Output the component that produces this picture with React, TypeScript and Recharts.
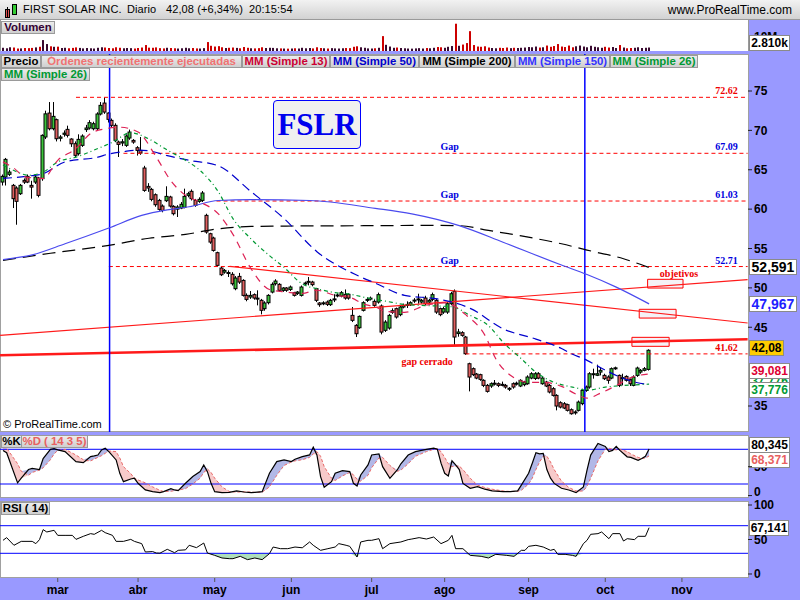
import React from 'react';
import { ComposedChart, Bar, Line, Area, XAxis, YAxis, ReferenceLine, ReferenceArea, ReferenceDot } from 'recharts';

// ---------- DATA (daily, index 0 = first session shown) ----------
const opens = [63.44,64.08,64.42,63.02,62.68,61.96,63.65,64.16,63.02,63.44,63.95,63.87,69.16,72.2,70.21,71.36,69.0,69.5,70.13,68.9,68.31,67.04,68.10,70.1,70.30,70.21,70.21,72.08,73.47,72.2,71.27,70.64,68.52,68.4,68.10,69.03,68.73,67.8,67.46,65.22,62.89,62.51,61.83,61.11,60.39,61.07,61.54,60.35,60.0,60.14,60.23,61.75,62.26,61.11,60.99,61.11,59.21,56.88,56.33,54.47,52.52,52.01,51.95,51.72,49.9,51.46,50.95,49.05,48.84,49.14,48.7,48.42,47.36,48.12,49.47,50.53,50.45,49.69,49.98,49.8,49.39,49.3,49.05,50.49,50.74,50.74,49.9,48.08,48.0,48.2,47.87,48.5,49.0,48.97,49.18,49.18,46.51,45.24,44.94,47.15,48.42,48.6,48.29,48.20,47.70,44.61,44.90,46.9,47.36,46.60,47.57,47.8,47.87,48.35,48.5,48.2,48.71,48.2,48.54,48.42,47.36,46.93,46.93,47.99,49.56,44.2,44.31,43.76,40.37,39.74,39.06,38.98,38.26,37.62,37.54,37.8,37.83,37.75,37.62,37.2,37.83,37.8,37.54,37.71,37.83,38.55,38.5,39.10,37.83,38.04,37.62,37.20,36.35,35.42,35.29,35.17,34.53,34.15,34.45,35.3,36.98,37.41,39.0,38.9,39.31,38.89,38.68,38.55,39.75,38.89,38.5,38.76,38.34,37.62,38.89,39.31,39.53,39.65];
const highs = [64.4,66.5,65.0,63.2,62.9,63.2,63.9,64.4,63.6,64.4,64.1,69.5,72.5,73.6,73.6,71.5,69.4,70.0,70.6,69.0,68.6,69.5,69.5,70.7,71.3,71.1,72.3,73.6,74.2,72.3,71.5,70.9,68.7,68.9,69.5,70.1,68.9,68.0,69.16,65.5,63.3,62.7,62.0,61.3,60.6,62.9,61.7,60.5,60.5,60.9,62.6,62.2,62.5,61.3,61.5,62.3,59.42,57.0,56.5,54.6,52.7,52.4,52.22,52.0,51.5,51.9,51.1,49.3,49.6,49.3,49.69,48.6,48.3,49.2,50.7,51.1,50.6,50.1,50.1,50.3,49.5,49.6,50.3,50.8,51.38,50.9,50.0,48.2,48.3,48.4,48.6,49.2,49.3,49.6,49.8,49.3,47.57,45.4,46.5,48.3,48.8,48.9,48.5,49.4,47.9,45.9,46.7,47.4,47.5,47.8,48.0,48.29,48.3,48.7,49.26,48.6,49.0,48.6,49.4,48.6,47.5,47.6,48.2,49.5,49.8,44.8,44.5,43.9,40.5,39.9,39.2,39.1,38.4,37.8,38.0,38.3,38.0,38.1,37.8,37.4,38.0,38.1,38.4,38.2,38.9,39.3,39.3,39.3,38.7,38.2,37.8,37.4,36.5,35.6,35.5,35.3,34.7,34.45,35.7,37.2,37.6,39.3,39.74,40.25,39.95,39.1,38.9,39.9,40.0,39.0,39.1,38.9,38.5,38.9,40.0,39.7,39.95,42.2];
const lows = [63.0,63.0,64.2,60.14,58.02,61.8,63.2,63.3,61.33,63.2,61.5,63.6,68.9,70.0,70.0,68.6,68.6,69.2,69.1,67.9,66.6,66.8,67.9,69.8,70.1,70.0,70.0,71.9,72.1,71.0,70.3,68.5,66.62,68.0,67.9,68.8,68.3,66.8,66.9,62.2,62.2,61.0,60.3,59.8,59.6,60.9,60.2,59.2,59.0,60.0,60.1,61.5,61.1,60.3,60.8,60.9,56.88,55.6,54.6,52.7,51.5,51.8,51.38,50.3,49.7,50.5,48.9,48.3,48.6,48.5,47.78,46.64,47.1,47.9,49.3,50.3,49.5,49.5,49.5,49.6,48.9,49.1,48.9,50.3,50.32,50.2,48.2,47.6,47.8,47.7,47.7,48.2,48.8,48.8,48.5,48.5,45.66,43.76,44.8,47.0,48.2,48.4,47.6,48.0,44.10,44.4,44.7,46.7,46.1,46.4,47.4,47.45,47.7,48.1,47.99,48.0,47.8,48.0,48.3,46.7,46.4,46.7,46.7,47.8,42.70,43.8,43.8,41.5,36.86,38.8,38.4,38.2,37.4,36.7,37.3,37.6,37.4,37.5,37.2,36.9,37.2,37.6,37.4,37.5,37.7,38.4,38.3,38.4,37.7,37.4,36.6,36.2,34.45,34.7,34.6,34.3,33.9,33.90,34.3,35.1,36.8,37.2,38.47,38.8,38.89,38.3,37.83,38.4,39.6,37.4,37.62,38.1,37.54,37.5,38.7,39.1,39.4,39.5];
const closes = [64.16,66.32,64.71,61.33,60.99,63.02,63.44,63.44,62.8,64.08,61.75,69.37,72.1,70.21,71.78,68.94,69.16,69.65,69.37,68.3,66.83,68.86,69.28,70.3,70.98,70.85,72.08,73.18,72.33,71.4,70.64,68.73,68.22,68.55,69.28,69.79,68.52,67.46,67.12,62.38,62.68,61.24,60.56,59.97,59.84,61.62,60.39,59.42,60.27,60.61,61.62,61.96,61.33,60.48,61.24,62.05,57.09,55.82,54.76,52.86,51.67,52.22,51.85,50.53,51.25,50.74,49.05,48.54,49.05,48.71,48.6,47.15,48.08,49.05,50.45,50.87,49.69,49.98,49.7,50.11,49.05,49.47,50.11,50.62,50.83,50.41,48.42,47.87,48.1,47.91,48.42,48.6,49.1,49.39,48.71,48.71,45.88,44.18,46.38,48.12,48.54,48.7,47.78,49.14,44.39,45.66,46.51,47.1,46.30,47.57,47.78,47.9,48.12,48.45,48.6,48.42,47.99,48.42,49.14,46.93,46.60,47.36,47.99,49.26,43.76,44.4,43.97,41.64,38.68,38.98,38.55,38.38,37.62,36.86,37.83,37.9,37.62,37.7,37.41,37.25,37.41,37.9,38.26,38.04,38.68,39.10,39.1,38.55,38.55,37.54,36.78,36.35,35.00,34.87,34.74,34.45,34.02,34.25,35.50,36.98,37.41,39.10,39.1,39.1,39.53,38.47,38.26,39.74,39.85,37.62,38.6,38.26,37.83,38.68,39.82,39.53,39.74,42.08];
const volumesM = [2.6,2.2,3.0,2.8,2.0,2.1,2.4,2.3,2.5,2.9,3.4,8.8,5.6,3.8,3.4,3.5,2.4,2.6,2.2,2.5,2.9,2.5,2.1,2.4,2.2,2.0,2.6,3.0,2.8,2.4,2.2,3.0,2.6,2.2,2.4,2.3,2.0,2.4,2.8,4.8,2.7,2.6,2.9,2.3,2.1,2.6,2.4,2.2,2.0,2.2,2.6,2.2,2.4,2.1,2.0,2.3,7.2,4.2,3.6,3.9,3.0,2.4,2.6,2.8,2.5,2.2,3.2,2.6,2.2,2.1,2.3,3.0,2.4,2.6,2.5,2.2,2.1,2.0,1.9,2.0,2.2,2.0,2.6,2.2,2.4,2.1,3.0,2.4,2.2,2.0,2.3,2.1,2.0,2.2,2.4,2.3,3.4,3.8,3.0,2.6,2.1,2.0,2.2,2.6,12.0,5.0,3.6,2.6,2.8,2.4,2.2,2.0,1.9,2.1,2.3,2.0,2.4,2.2,2.6,3.2,3.0,2.6,3.4,4.0,22.0,4.2,5.2,6.4,16.0,4.8,3.6,3.4,3.8,2.8,2.4,2.2,2.6,2.4,2.8,2.3,2.6,2.4,2.6,2.8,3.2,3.0,3.6,2.8,3.0,4.4,3.4,4.0,5.6,3.6,3.2,4.4,3.0,3.8,4.4,3.6,3.0,4.2,3.4,3.0,2.6,3.4,2.8,3.2,2.4,4.8,2.8,2.2,2.4,2.6,3.0,2.4,2.6,2.81];

// moving averages: [session index, value]
const mm13Pts = [[0,66.0],[3,65.2],[6,64.1],[11,63.9],[15,66.2],[20,67.7],[24,69.6],[28,70.2],[32,70.4],[37,69.8],[42,66.6],[46,63.6],[50,61.75],[54,60.9],[59,59.4],[63,56.8],[68,52.4],[73,49.8],[77,49.5],[82,49.3],[86,49.7],[91,49.05],[95,48.8],[99,47.9],[102,47.6],[105,47.0],[110,46.9],[116,47.8],[121,48.1],[127,46.5],[132,44.0],[135,41.0],[139,38.9],[144,38.0],[148,38.0],[153,37.5],[157,36.5],[160,36.0],[164,36.7],[168,37.6],[172,38.6],[177,39.08]];
const mm26Pts = [[0,65.6],[3,64.9],[7,64.3],[11,64.7],[15,66.0],[20,66.6],[26,67.7],[30,68.5],[35,69.7],[40,68.9],[45,67.5],[50,66.2],[54,64.9],[59,62.2],[63,58.8],[68,56.2],[73,54.1],[77,52.6],[82,50.5],[86,49.9],[91,49.4],[95,49.2],[100,48.7],[105,48.3],[110,47.9],[119,47.7],[123,47.6],[128,46.5],[133,45.2],[137,43.1],[142,41.0],[146,39.3],[151,38.0],[154,37.6],[157,37.3],[160,37.0],[165,37.4],[170,37.6],[177,37.78]];
const mm50Pts = [[0,63.9],[7,64.2],[11,64.5],[17,66.0],[26,66.6],[29,67.0],[33,67.3],[37,67.5],[40,67.4],[45,66.8],[51,66.2],[59,65.5],[68,62.2],[77,58.8],[86,54.6],[97,51.6],[102,50.6],[110,49.05],[119,48.6],[128,47.4],[137,44.8],[146,43.5],[153,42.3],[155,41.8],[160,40.8],[164,39.8],[170,38.5],[176,37.8],[177,37.78]];
const mm150Pts = [[0,53.6],[8,54.2],[17,55.6],[29,57.6],[38,59.2],[45,59.9],[51,60.3],[59,61.1],[68,61.2],[84,61.1],[102,60.1],[112,59.4],[125,57.9],[137,55.8],[153,52.9],[160,51.7],[168,50.1],[177,47.97]];
const mm200Pts = [[0,53.5],[13,54.4],[29,55.4],[40,56.3],[50,56.8],[59,57.5],[68,57.8],[77,57.85],[102,57.9],[119,57.94],[125,57.9],[133,57.3],[142,56.6],[153,55.6],[160,54.8],[170,53.7],[177,52.59]];

// stochastic %K / %D (14 3 5)
const stochIdx = [0,1,4,5,7,8,10,11,13,14,15,17,20,22,24,25,26,27,28,29,31,32,33,35,36,37,39,41,43,44,46,47,48,50,52,54,55,56,57,58,60,62,64,66,68,69,71,73,75,77,79,80,82,84,85,86,87,88,90,91,93,95,96,97,98,100,101,103,104,106,108,109,111,113,116,118,119,120,121,122,123,124,125,126,128,130,132,134,137,139,141,142,144,145,146,147,148,149,150,151,153,155,157,159,160,161,163,165,166,167,168,169,171,172,174,175,176,177];
const stochK = [78,74,22,30,45,47,45,64,80,81,79,76,58.7,57,67.4,68.5,70,79,81.8,76,61.6,38.5,24,28.7,29.9,21.2,9.7,6.8,5,6.8,12,9.7,8.5,21.2,32.8,41.4,53,41.4,21.2,6.8,5,5.6,8,6.2,5,5.6,6.8,38.5,58.7,61.6,58.7,62.7,67.4,70.2,83.5,70.2,32.8,14.3,24,38.5,43,41.4,21.2,16.6,35.6,53,70.2,72,50,29.9,44.3,55,70,76,80,82,80,56,38.5,34,60,53,45,21,12.6,15.5,11,8,6.8,6.8,8,18,38.5,56,74,72,73,45,30,21,12.6,9.7,5,15,44,70,90,85,76,78,85,78,67,66,61,64,68,80.345];
const stochD = [85,82,55,42,35,40,44,48,62,72,78,80,70,62,60,63,66,69,73,77,76,65,50,38,30,27,22,15,9,7,7.5,8.5,9.5,12,20,30,40,46,40,30,15,7,6,6.5,6,5.5,5.8,15,35,52,58,60,62,66,72,76,68,50,30,26,34,40,36,28,25,35,48,65,66,52,42,44,55,68,76,80,81,76,66,55,50,51,51,45,30,18,14,11,8,7,7.5,9,20,30,45,58,68,68,58,45,25,14,8,8,16,30,60,80,82,80,79,80,76,72,66,64,65,68.371];

// RSI (14)
const rsiIdx = [0,1,3,5,8,9,10,11,12,14,15,17,19,20,22,24,25,27,28,30,31,33,35,36,38,39,41,42,43,45,47,48,50,51,53,55,56,58,60,62,63,65,67,69,71,73,74,76,78,80,82,84,85,87,89,91,92,94,95,97,98,100,101,103,104,106,109,111,112,114,116,118,120,122,123,124,126,128,131,133,135,138,140,142,143,144,146,148,150,151,152,154,156,157,159,160,161,163,164,166,167,169,170,171,173,174,176,177];
const rsiVals = [48.8,52.7,41.6,47.3,47.3,44,49.8,64.3,60.9,63.3,56,56,56,50.2,54.6,58.5,57.5,63.3,59.9,56,47.3,47.3,50.2,47.3,44,31.9,32.5,30.4,30.2,35.8,30.9,34.3,35,41.6,38.2,44.9,30.4,27,23.2,22.2,22.2,25.6,20.8,23.2,20.8,29.5,39.1,36.7,36.7,39.1,38,46.4,41.6,34.3,36.7,39.1,44,41.6,40.1,24.6,46.4,48.8,48.8,51.2,36.7,44,46.4,49.8,50.7,52.7,50.7,53.6,44,48.8,56,36.7,36.7,27,25.6,23.2,28.5,27,25.6,34.3,34.3,40.1,41.6,39.1,34.3,35.8,28.5,28.5,27,25.6,44,48.8,57.5,58.5,60.9,51.2,58.5,58.5,47.8,51.2,49.8,54.6,54.6,67.141];

// month axis
const monthIdx = [15,37,58,79,101,121,144,165,186];
const monthLabels = ['mar','abr','may','jun','jul','ago','sep','oct','nov'];

// gap levels: value, first session, printed label
const gapValues = [74.2, 67.09, 61.03, 52.71, 41.62];
const gapStarts = [20, 33, 58.5, 29, 126.7];
const gapTexts = ['72.62', '67.09', '61.03', '52.71', '41.62'];
const gapNoteIdx = 122.4;

// trend lines: [startIdx, startVal, endIdx, endVal]
const trendLines = [[-0.8, 41.44, 204, 43.47], [-0.8, 43.98, 204, 51.04], [62.1, 52.74, 204, 45.54]];
// objective boxes: [x1, x2, y1, y2]
const objectiveBoxes = [[176.6, 186.3, 49.98, 51.09], [174.3, 184.4, 46.17, 47.28], [172.3, 182.5, 42.58, 43.72]];
const markerIdx = [29.2, 159.4];

// ---------- STYLE ----------
const X_DOMAIN = [-0.82, 204.1];
const LAV = '#9999ff';
const FONT = '"Liberation Sans", Arial, sans-serif';
const SERIF = '"Liberation Serif", "Times New Roman", serif';
const UP = '#3cc43c';
const DOWN = '#e06060';

const rows = opens.map((o, i) => ({ i, o, h: highs[i], l: lows[i], c: closes[i], range: [lows[i], highs[i]], vol: volumesM[i] } as any));
const maSets: any = { mm13: mm13Pts, mm26: mm26Pts, mm50: mm50Pts, mm150: mm150Pts, mm200: mm200Pts };
Object.keys(maSets).forEach((k) => maSets[k].forEach(([i, v]: number[]) => { rows[i][k] = v; }));

const stochRows = stochIdx.map((i, n) => ({ i, k: stochK[n], d: stochD[n] }));
const rsiRows = rsiIdx.map((i, n) => ({ i, r: rsiVals[n] }));

const Candle = (p: any) => {
  const { x, y, width, height, payload } = p;
  if (!payload || height == null || isNaN(y)) return null;
  const { o, h, l, c } = payload;
  const k = height / Math.max(h - l, 1e-6);
  const yO = y + (h - o) * k;
  const yC = y + (h - c) * k;
  const cx = Math.round(x + width / 2);
  const top = Math.min(yO, yC);
  const bh = Math.max(Math.abs(yC - yO), 1);
  return (
    <g>
      <line x1={cx - 0.5} x2={cx - 0.5} y1={y} y2={y + height} stroke="#000" strokeWidth={1} />
      <rect x={cx - 2} y={top} width={3} height={bh} fill={c >= o ? UP : DOWN} stroke="#000" strokeWidth={1} />
    </g>
  );
};

const VolBar = (p: any) => {
  const { x, y, width, height, payload } = p;
  if (!payload || !height) return null;
  return <rect x={Math.round(x)} y={y} width={2} height={height} fill={payload.c >= payload.o ? '#3a0a30' : '#cc0000'} />;
};

const makeTag = (text: string, color: string, bg: string, dy: number, fs: number, w: number) => (p: any) => {
  const vb = p.viewBox || {};
  const x0 = Math.round((vb.x || 0) + (vb.width || 0)) + 1;
  const yc = Math.round((vb.y || 0) + dy);
  return (
    <g>
      <rect x={x0 + 0.5} y={yc - 7.5} width={w} height={15} fill={bg} stroke="#8a8a8a" />
      <text x={x0 + w / 2 + 0.5} y={yc + fs * 0.36} textAnchor="middle" fontFamily={FONT} fontWeight="bold" fontSize={fs} fill={color}>{text}</text>
    </g>
  );
};

// axis-style text drawn as a reference label so that later value tags can cover it
const axisText = (text: string, dy: number) => (p: any) => {
  const vb = p.viewBox || {};
  return (
    <text x={(vb.x || 0) + (vb.width || 0) + 6} y={(vb.y || 0) + dy + 4} textAnchor="start" fontFamily={FONT} fontWeight="bold" fontSize={12} fill="#000">{text}</text>
  );
};

const levelLabel = (text: string, color: string) => (p: any) => {
  const vb = p.viewBox || {};
  return (
    <text x={(vb.x || 0) + (vb.width || 0) - 10} y={(vb.y || 0) - 3} textAnchor="end" fontFamily={SERIF} fontWeight="bold" fontSize={10} fill={color}>{text}</text>
  );
};

const noteShape = (text: string, color: string, dy: number) => (p: any) => (
  <text x={p.cx} y={p.cy + dy} textAnchor="middle" fontFamily={SERIF} fontWeight="bold" fontSize={10} fill={color}>{text}</text>
);

const axisTick = { fontSize: 12, fontWeight: 'bold', fill: '#000', fontFamily: FONT } as any;
const shiftedTick = (dy: number, only?: number[]) => (p: any) => (
  only && !only.includes(p.payload.value) ? <g /> :
  <text x={p.x} y={p.y + dy + 4} textAnchor="start" fontSize={12} fontWeight="bold" fill="#000" fontFamily={FONT}>
    {p.payload.value}
  </text>
);

const boxStyle = (left: number, top: number, width: number, color: string): React.CSSProperties => ({
  position: 'absolute', left, top, width, height: 13, boxSizing: 'border-box',
  border: '1px solid #9a9a9a', background: 'linear-gradient(#ececec, #cfcfcf)',
  font: `bold 11.4px ${FONT}`, color, lineHeight: '11px', textAlign: 'center', whiteSpace: 'nowrap', overflow: 'hidden',
});

const legendRow1: [string, string, number, number][] = [
  ['Precio', '#000', 1, 40],
  ['Órdenes recientemente ejecutadas', '#f07272', 41, 201],
  ['MM (Simple 13)', '#cc0033', 242, 88],
  ['MM (Simple 50)', '#0000cc', 330, 89],
  ['MM (Simple 200)', '#000', 419, 96],
  ['MM (Simple 150)', '#3333ff', 515, 95],
  ['MM (Simple 26)', '#009933', 610, 88],
];

export default function App() {
  return (
    <div style={{ position: 'absolute', left: 0, top: 0, width: 800, height: 600, background: LAV, overflow: 'hidden', fontFamily: FONT }}>
      {/* header */}
      <div style={{ position: 'absolute', left: 0, top: 0, width: 800, height: 20, boxSizing: 'border-box', background: 'linear-gradient(#f2f2f2, #d2d2d2)', borderBottom: '1px solid #9a9a9a' }} />
      <div style={{ position: 'absolute', left: 5, top: 9, width: 3, height: 7, background: '#e05050', border: '1px solid #000' }} />
      <div style={{ position: 'absolute', left: 6.5, top: 7, width: 1, height: 11, background: '#000' }} />
      <div style={{ position: 'absolute', left: 12, top: 4, width: 3, height: 9, background: '#33cc33', border: '1px solid #000' }} />
      {[['FIRST SOLAR INC.', 23], ['Diario', 127], ['42,08 (+6,34%)', 166], ['20:15:54', 249]].map(([t, x]) => (
        <div key={t as string} style={{ position: 'absolute', left: x as number, top: 3, font: `11px ${FONT}`, letterSpacing: '0.1px', color: '#000', whiteSpace: 'nowrap' }}>{t}</div>
      ))}
      <div style={{ position: 'absolute', right: 8, top: 3, font: `12px ${FONT}`, color: '#000' }}>www.ProRealTime.com</div>

      {/* panel backgrounds */}
      <div style={{ position: 'absolute', left: 0, top: 20, width: 749, height: 31, boxSizing: 'border-box', background: '#fff', borderLeft: '1px solid #999', borderRight: '1px solid #999' }} />
      <div style={{ position: 'absolute', left: 0, top: 54, width: 749, height: 378, boxSizing: 'border-box', background: '#fff', border: '1px solid #a0a0a0' }} />
      <div style={{ position: 'absolute', left: 0, top: 435, width: 749, height: 63, boxSizing: 'border-box', background: '#fff', border: '1px solid #a0a0a0' }} />
      <div style={{ position: 'absolute', left: 0, top: 501, width: 749, height: 77, boxSizing: 'border-box', background: '#fff', border: '1px solid #a0a0a0' }} />

      {/* volume */}
      <div style={{ position: 'absolute', left: 0, top: 20 }}>
        <ComposedChart width={800} height={31} data={rows} margin={{ top: 0, right: 52, bottom: 0, left: 0 }}>
          <XAxis type="number" dataKey="i" domain={X_DOMAIN} hide allowDataOverflow />
          <YAxis domain={[0, 25]} hide allowDataOverflow />
          <Bar dataKey="vol" barSize={2} isAnimationActive={false} shape={VolBar} />
          <ReferenceLine y={10} stroke="none" label={axisText('10M', -2)} />
          <ReferenceLine y={2.81} stroke="none" label={makeTag('2.810k', '#000', '#fff', -5, 12, 40)} />
        </ComposedChart>
      </div>

      {/* price */}
      <div style={{ position: 'absolute', left: 0, top: 54 }}>
        <ComposedChart width={800} height={378} data={rows} margin={{ top: 0, right: 0, bottom: 0, left: 0 }}>
          <XAxis type="number" dataKey="i" domain={X_DOMAIN} hide allowDataOverflow />
          <YAxis orientation="right" width={52} domain={[31.7, 79.7]} allowDataOverflow ticks={[35, 45, 50, 55, 60, 65, 70, 75]} interval={0}
            axisLine={false} tickLine={{ stroke: '#222' }} tickSize={4} tickMargin={2} tick={axisTick} />
          {gapValues.map((v, n) => (
            <ReferenceLine key={'g' + n} segment={[{ x: gapStarts[n], y: v }, { x: 204, y: v }]} stroke="#ff0000" strokeDasharray="4 3" strokeWidth={1}
              label={levelLabel(gapTexts[n], n === 0 || n === 4 ? '#ee0000' : '#0000dd')} />
          ))}
          {gapValues.slice(1, 4).map((v, n) => (
            <ReferenceDot key={'gn' + n} x={gapNoteIdx} y={v} r={0} shape={noteShape('Gap', '#0000dd', -3)} />
          ))}
          <ReferenceDot x={116.2} y={41.62} r={0} shape={noteShape('gap cerrado', '#ee0000', 11)} />
          <ReferenceDot x={185.2} y={51.76} r={0} shape={noteShape('objetivos', '#ee0000', 3)} />
          {trendLines.map((t, n) => (
            <ReferenceLine key={'t' + n} segment={[{ x: t[0], y: t[1] }, { x: t[2], y: t[3] }]} stroke="#ff1a1a" strokeWidth={n === 0 ? 2.6 : 1.2} />
          ))}
          {objectiveBoxes.map((b, n) => (
            <ReferenceArea key={'o' + n} x1={b[0]} x2={b[1]} y1={b[2]} y2={b[3]} stroke="#ff0000" strokeWidth={1} fill="#eeeaf0" fillOpacity={0.6} />
          ))}
          {markerIdx.map((m, n) => (
            <ReferenceLine key={'m' + n} x={m} stroke="#0000ff" strokeWidth={1.5} />
          ))}
          <Line dataKey="mm200" type="monotone" stroke="#000" strokeWidth={1.2} strokeDasharray="13 7" dot={false} connectNulls isAnimationActive={false} />
          <Line dataKey="mm150" type="monotone" stroke="#4a4aee" strokeWidth={1.2} dot={false} connectNulls isAnimationActive={false} />
          <Line dataKey="mm50" type="monotone" stroke="#0000cc" strokeWidth={1.2} strokeDasharray="9 5" dot={false} connectNulls isAnimationActive={false} />
          <Line dataKey="mm26" type="monotone" stroke="#009933" strokeWidth={1.2} strokeDasharray="4 3 1 3" dot={false} connectNulls isAnimationActive={false} />
          <Line dataKey="mm13" type="monotone" stroke="#dd2255" strokeWidth={1.2} strokeDasharray="7 6" dot={false} connectNulls isAnimationActive={false} />
          <Bar dataKey="range" barSize={3} isAnimationActive={false} shape={Candle} />
          <ReferenceLine y={52.591} stroke="none" label={makeTag('52,591', '#000', '#fff', 0, 14, 47)} />
          <ReferenceLine y={47.967} stroke="none" label={makeTag('47,967', '#2020ff', '#fff', 0, 14, 47)} />
          <ReferenceLine y={37.776} stroke="none" label={makeTag('37,776', '#009933', '#fff', -3, 12, 40)} />
          <ReferenceLine y={37.776} stroke="none" label={makeTag('37,776', '#009933', '#fff', 6, 12, 40)} />
          <ReferenceLine y={39.081} stroke="none" label={makeTag('39,081', '#dd0033', '#fff', -3, 12, 40)} />
          <ReferenceLine y={42.08} stroke="none" label={makeTag('42,08', '#000', '#ffcc00', -2, 12, 34)} />
        </ComposedChart>
      </div>

      {/* stochastic */}
      <div style={{ position: 'absolute', left: 0, top: 435 }}>
        <ComposedChart width={800} height={63} data={stochRows} margin={{ top: 0, right: 0, bottom: 0, left: 0 }}>
          <XAxis type="number" dataKey="i" domain={X_DOMAIN} hide allowDataOverflow />
          <YAxis orientation="right" width={52} domain={[-4.2, 104.7]} allowDataOverflow ticks={[0, 50]} interval={0}
            axisLine={false} tickLine={{ stroke: '#222' }} tickSize={4} tickMargin={2} tick={shiftedTick(-4, [0])} />
          <ReferenceLine y={80} stroke="#0000ff" strokeWidth={1} />
          <ReferenceLine y={20} stroke="#0000ff" strokeWidth={1} />
          <Area dataKey={(d: any) => [d.d, Math.max(d.k, d.d)]} type="linear" stroke="none" fill="#aab0e4" fillOpacity={0.9} isAnimationActive={false} />
          <Area dataKey={(d: any) => [Math.min(d.k, d.d), d.d]} type="linear" stroke="none" fill="#f6c4c4" fillOpacity={0.9} isAnimationActive={false} />
          <Line dataKey="d" type="linear" stroke="#e86a6a" strokeWidth={1} strokeDasharray="3 2" dot={false} isAnimationActive={false} />
          <Line dataKey="k" type="linear" stroke="#000" strokeWidth={1.2} dot={false} isAnimationActive={false} />
          <ReferenceLine y={50} stroke="none" label={axisText('50', 0)} />
          <ReferenceLine y={80.345} stroke="none" label={makeTag('80,345', '#000', '#fff', -4, 12, 40)} />
          <ReferenceLine y={68.371} stroke="none" label={makeTag('68,371', '#e86060', '#fff', 4, 12, 40)} />
        </ComposedChart>
      </div>

      {/* RSI */}
      <div style={{ position: 'absolute', left: 0, top: 497 }}>
        <ComposedChart width={800} height={103} data={rsiRows} margin={{ top: 4, right: 0, bottom: 0, left: 0 }}>
          <XAxis type="number" dataKey="i" domain={X_DOMAIN} allowDataOverflow ticks={monthIdx} interval={0} height={22}
            tickFormatter={(v: number) => monthLabels[monthIdx.indexOf(v)] || ''}
            axisLine={false} tickLine={{ stroke: '#555' }} tickSize={4} tickMargin={3} tick={axisTick} />
          <YAxis orientation="right" width={52} domain={[-5.8, 105.8]} allowDataOverflow ticks={[0, 50, 100]} interval={0}
            axisLine={false} tickLine={{ stroke: '#222' }} tickSize={4} tickMargin={2} tick={shiftedTick(0)} />
          <ReferenceLine y={70} stroke="#0000ff" strokeWidth={1} />
          <ReferenceLine y={30} stroke="#0000ff" strokeWidth={1} />
          <Area dataKey={(d: any) => (d.r < 30 ? [d.r, 30] : [30, 30])} type="linear" stroke="none" fill="#a6dcb4" fillOpacity={0.9} isAnimationActive={false} />
          <Line dataKey="r" type="linear" stroke="#000" strokeWidth={1} dot={false} isAnimationActive={false} />
          <ReferenceLine y={67.141} stroke="none" label={makeTag('67,141', '#000', '#fff', 0, 12, 39)} />
        </ComposedChart>
      </div>

      {/* overlays */}
      <div style={{ ...boxStyle(1, 21, 54, '#330033') }}>Volumen</div>
      {legendRow1.map(([t, c, x, w]) => (
        <div key={t} style={boxStyle(x, 55, w, c)}>{t}</div>
      ))}
      <div style={boxStyle(1, 68, 89, '#009933')}>MM (Simple 26)</div>
      <div style={boxStyle(1, 435, 21, '#000')}>%K</div>
      <div style={boxStyle(21, 435, 67, '#e86060')}>%D ( 14 3 5)</div>
      <div style={boxStyle(1, 502, 49, '#000')}>RSI ( 14)</div>
      <div style={{ position: 'absolute', left: 273, top: 100, width: 88, height: 49, boxSizing: 'border-box', border: '1px solid #0000ff', borderRadius: 4, background: '#f0f0f0', color: '#0000ee', font: `bold 31px ${SERIF}`, lineHeight: '47px', textAlign: 'center' }}>FSLR</div>
      <div style={{ position: 'absolute', left: 3, top: 418, font: `11px ${FONT}`, color: '#000' }}>© ProRealTime.com</div>
    </div>
  );
}
